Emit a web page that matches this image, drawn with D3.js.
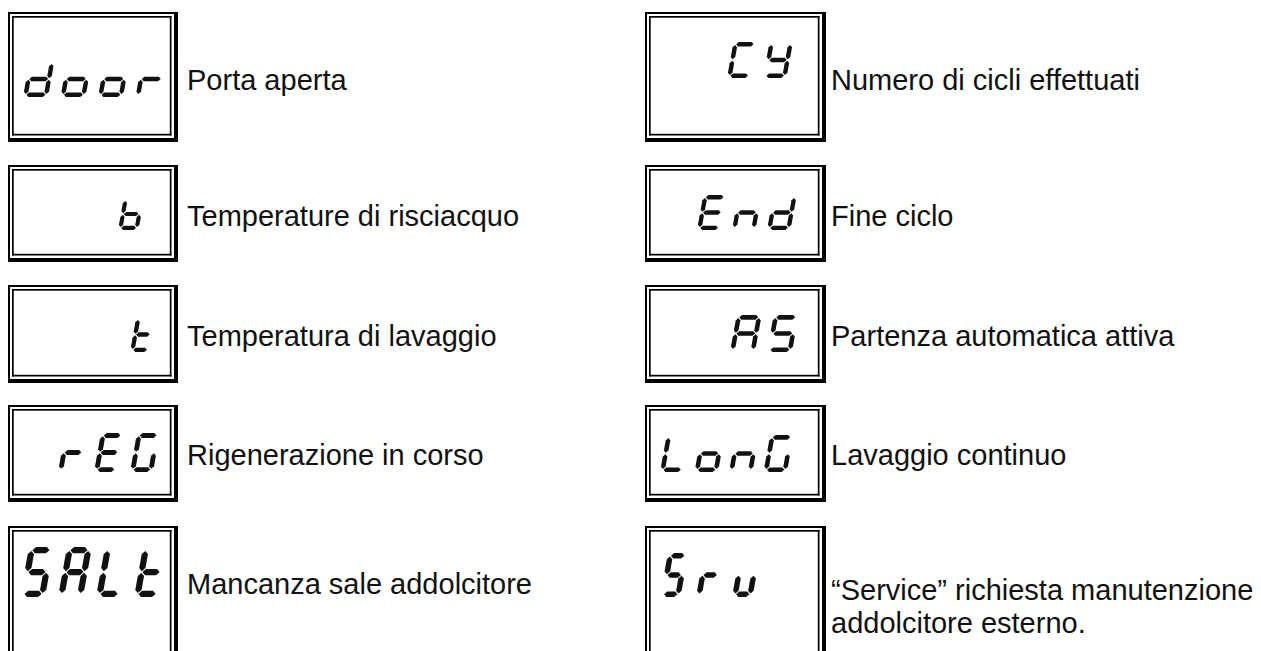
<!DOCTYPE html>
<html><head><meta charset="utf-8">
<script src="https://cdn.jsdelivr.net/npm/d3@7/dist/d3.min.js"></script>
<style>html,body{margin:0;padding:0;background:#fff;overflow:hidden}</style>
</head><body><svg id="chart" width="1261" height="651"></svg>
<script>
// ---- data ----
const leftCodes = ["door", "   b", "   t", " rEG", "SALt"];
const leftLabels = [["Porta aperta"], ["Temperature di risciacquo"], ["Temperatura di lavaggio"], ["Rigenerazione in corso"], ["Mancanza sale addolcitore"]];
const rightCodes = ["  CY", " End", "  AS", "LonG", "Sru "];
const rightLabels = [["Numero di cicli effettuati"], ["Fine ciclo"], ["Partenza automatica attiva"], ["Lavaggio continuo"], ["\u201cService\u201d richiesta manutenzione", "addolcitore esterno."]];
const segmentMap = {d:"bcdeg", o:"cdeg", r:"eg", C:"adef", Y:"bcdfg", b:"cdefg", E:"adefg", n:"ceg", t:"defg", A:"abcefg", S:"acdfg", G:"acdef", L:"def", u:"cde"};

// ---- layout ----
const rowTop = [12, 165, 285, 405, 526];
const rowBottom = [142, 262, 383, 502, 664];
const cols = [{x: 8, w: 170, textX: 187}, {x: 645, w: 181, textX: 831}];
const leftDigits = [
  {x0: 23, yb: 97, H: 36, W: 25, p: 37.5},
  {x0: 19, yb: 230, H: 32, W: 20.5, p: 33},
  {x0: 28, yb: 352, H: 35, W: 19.5, p: 34},
  {x0: 22, yb: 472, H: 39, W: 23, p: 36},
  {x0: 20, yb: 597, H: 50, W: 25, p: 38}
];
const rightDigits = [
  {x0: 655, yb: 78, H: 36, W: 23.5, p: 36},
  {x0: 662, yb: 230, H: 35, W: 23.5, p: 35},
  {x0: 656, yb: 352, H: 37, W: 25, p: 37},
  {x0: 660, yb: 472, H: 37, W: 23.5, p: 34.5},
  {x0: 660, yb: 597, H: 44, W: 20.5, p: 36}
];
const leftBase = [[90], [226], [346], [465], [594]];
const rightBase = [[90], [226], [346], [465], [600, 633]];
const slant = 0.18;

const svg = d3.select("#chart");

function drawBox(g, x, y, w, h) {
  const rects = [
    [x, y, w, 2], [x, y, 2, h], [x + w - 4, y, 4, h], [x, y + h - 4, w, 4],
    [x + 4, y + 4, w - 10.5, 1.7], [x + 4, y + 4, 1.7, h - 10.5],
    [x + w - 8.2, y + 4, 1.7, h - 10.5], [x + 4, y + h - 8.2, w - 10.5, 1.7]
  ];
  g.selectAll("rect.b").data(rects).enter().append("rect").attr("class", "b")
    .attr("x", d => d[0]).attr("y", d => d[1]).attr("width", d => d[2]).attr("height", d => d[3])
    .attr("fill", "#000");
}

function segPolys(H, W) {
  const t = Math.max(4.2, H * 0.125), h = t / 2, gp = 0.8;
  const hz = (y) => { const x1 = h + gp, x2 = W - h - gp;
    return [[x1, y], [x1 + h, y + h], [x2 - h, y + h], [x2, y], [x2 - h, y - h], [x1 + h, y - h]]; };
  const vt = (x, y1, y2) => { const a = y1 + gp, b = y2 - gp;
    return [[x, a], [x + h, a + h], [x + h, b - h], [x, b], [x - h, b - h], [x - h, a + h]]; };
  return {
    a: hz(H - h), g: hz(H / 2), d: hz(h),
    f: vt(h, H / 2, H - h), e: vt(h, h, H / 2),
    b: vt(W - h, H / 2, H - h), c: vt(W - h, h, H / 2)
  };
}

function drawDigits(g, code, L) {
  const polys = segPolys(L.H, L.W);
  const cell = d3.scaleLinear().domain([0, 1]).range([L.x0, L.x0 + L.p]);
  const line = d3.line();
  const items = [];
  code.split("").forEach((ch, i) => {
    (segmentMap[ch] || "").split("").forEach(s => items.push({i, s}));
  });
  g.selectAll("path.seg").data(items).enter().append("path").attr("class", "seg")
    .attr("d", d => line(polys[d.s].map(([x, y]) => [cell(d.i) + x + y * slant, L.yb - y])) + "Z")
    .attr("fill", "#111");
}

function drawColumn(ci, codes, labels, digits, bases) {
  const c = cols[ci];
  codes.forEach((code, r) => {
    const g = svg.append("g");
    drawBox(g, c.x, rowTop[r], c.w, rowBottom[r] - rowTop[r]);
    drawDigits(g, code, digits[r]);
    g.selectAll("text.lab").data(labels[r]).enter().append("text").attr("class", "lab")
      .attr("x", c.textX).attr("y", (d, k) => bases[r][k])
      .attr("font-family", "'Liberation Sans', Arial, sans-serif").attr("font-size", 29)
      .attr("fill", "#111").text(d => d);
  });
}
drawColumn(0, leftCodes, leftLabels, leftDigits, leftBase);
drawColumn(1, rightCodes, rightLabels, rightDigits, rightBase);
</script></body></html>
